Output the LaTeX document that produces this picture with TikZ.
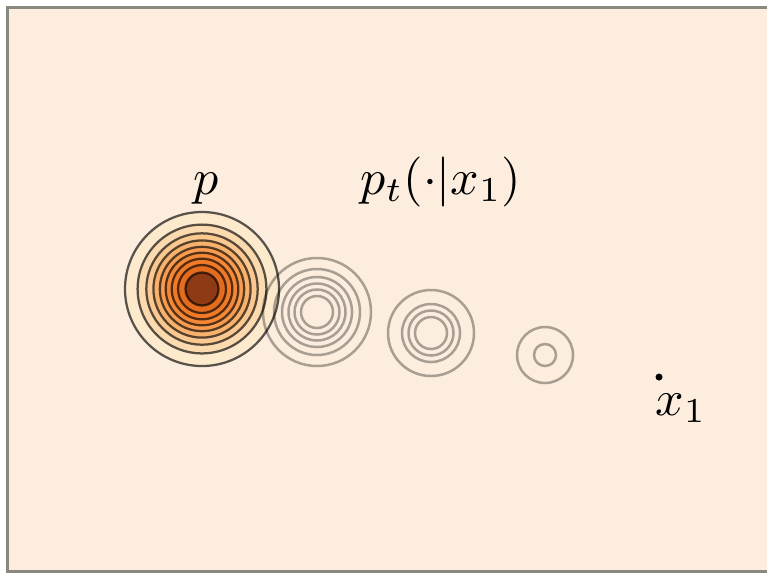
\documentclass[tikz,border=0pt]{standalone}
\usepackage{amsmath,amssymb}
\usepackage{tikz}
\usetikzlibrary{positioning}

\definecolor{paper}{RGB}{252,237,222}
\definecolor{framegray}{RGB}{138,137,128}
\definecolor{orA}{RGB}{253,233,204}
\definecolor{orB}{RGB}{252,218,176}
\definecolor{orC}{RGB}{251,200,145}
\definecolor{orD}{RGB}{249,178,110}
\definecolor{orE}{RGB}{247,156,80}
\definecolor{orF}{RGB}{244,136,55}
\definecolor{orG}{RGB}{240,122,40}
\definecolor{orH}{RGB}{228,108,30}
\definecolor{orI}{RGB}{142,58,20}

\begin{document}
\begin{tikzpicture}[x=0.2pt, y=-0.2pt,
      lvl/.style={draw=black, draw opacity=0.65, line width=0.45pt},
      pathlvl/.style={draw=black, draw opacity=0.33, line width=0.5pt},
      lbl/.style={font=\normalsize, inner sep=0pt, anchor=base},
      dotnode/.style={circle, fill=black, inner sep=0pt, minimum size=1.4pt}]

    \useasboundingbox (0,0) rectangle (767,574);
    \fill[white] (0,0) rectangle (767,574);
    \draw[framegray, fill=paper, line width=0.6pt] (7,7) rectangle (790,571);

    % ===== source density p =====
    \coordinate (pc) at (202,289);
    \foreach \r/\c in {77/orA, 64.4/orB, 55.7/orC, 48.6/orD, 42.2/orE,
                       36.3/orF, 30.3/orG, 24/orH, 16.5/orI} {
        \fill[\c] (pc) circle[radius=\r];
    }
    \foreach \r in {77, 64.4, 55.7, 48.6, 42.2, 36.3, 30.3, 24, 16.5} {
        \draw[lvl] (pc) circle[radius=\r];
    }

    % ===== conditional path p_t(.|x_1) =====
    \coordinate (qa) at (317,312);
    \coordinate (qb) at (431,333);
    \coordinate (qc) at (545,355);
    \foreach \r in {54, 43, 35, 28.5, 22.5, 16} {
        \draw[pathlvl] (qa) circle[radius=\r];
    }
    \foreach \r in {43, 29, 22.5, 16} {
        \draw[pathlvl] (qb) circle[radius=\r];
    }
    \foreach \r in {28, 11} {
        \draw[pathlvl] (qc) circle[radius=\r];
    }

    % ===== labels =====
    \node[lbl] (plbl) at (206,194) {$p$};
    \node[lbl] (ptlbl) at (441,194) {$p_t(\cdot|x_1)$};
    \node[dotnode] (xone) at (659,377) {};
    \node[lbl] (xlbl) at (681,415) {$x_1$};

\end{tikzpicture}
\end{document}
